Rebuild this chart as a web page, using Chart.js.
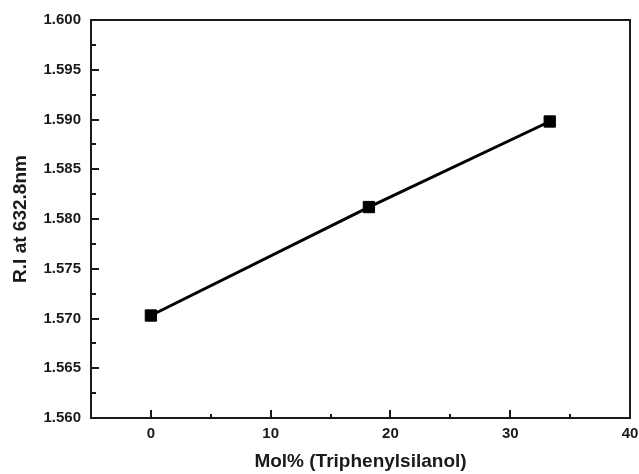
<!DOCTYPE html>
<html>
<head>
<meta charset="utf-8">
<script src="https://cdn.jsdelivr.net/npm/chart.js@4"></script>
<style>
  html, body { margin: 0; padding: 0; background: #fff; }
  #wrap { width: 639px; height: 474px; }
</style>
</head>
<body>
<div id="wrap"><canvas id="myChart"></canvas></div>
<script>
/** Data **/
let molPercent = [0, 18.2, 33.3];
let refIndex = [1.5703, 1.5812, 1.5898];
let xTicks = [0, 10, 20, 30, 40];
let yTicks = [1.56, 1.565, 1.57, 1.575, 1.58, 1.585, 1.59, 1.595, 1.6];

const ink = "#1a1a1a";

//  Box round the plot plus inward major / minor ticks
const frameTicks = {
  id: "frameTicks",
  afterDraw(chart) {
    const { ctx, chartArea: a, scales } = chart;
    ctx.save();
    ctx.strokeStyle = ink;
    ctx.lineWidth = 2;
    ctx.strokeRect(a.left, a.top, a.right - a.left, a.bottom - a.top);

    ctx.beginPath();
    // x axis ticks
    for (let i = 0; i < xTicks.length; i++) {
      let px = Math.round(scales.x.getPixelForValue(xTicks[i]));
      ctx.moveTo(px, a.bottom);
      ctx.lineTo(px, a.bottom - 8);
      let mid = xTicks[i] - 5;
      let mx = Math.round(scales.x.getPixelForValue(mid));
      if (mx > a.left + 1) {
        ctx.moveTo(mx, a.bottom);
        ctx.lineTo(mx, a.bottom - 4);
      }
    }
    // y axis ticks
    for (let i = 0; i < yTicks.length; i++) {
      let py = Math.round(scales.y.getPixelForValue(yTicks[i]));
      ctx.moveTo(a.left, py);
      ctx.lineTo(a.left + 8, py);
      if (i > 0) {
        let my = Math.round(scales.y.getPixelForValue((yTicks[i] + yTicks[i - 1]) / 2));
        ctx.moveTo(a.left, my);
        ctx.lineTo(a.left + 5, my);
      }
    }
    ctx.lineWidth = 2;
    ctx.stroke();
    ctx.restore();
  },
};

const ctx = document.getElementById("myChart");

let myChart = new Chart(ctx, {
  type: "scatter",
  data: {
    datasets: [
      {
        data: molPercent.map((x, i) => ({ x: x, y: refIndex[i] })),
        showLine: true,
        borderColor: "#000",
        borderWidth: 3,
        backgroundColor: "#000",
        pointStyle: "rect",
        pointRadius: 8,
        pointBorderWidth: 1,
        pointBorderColor: "#000",
        pointBackgroundColor: "#000",
        clip: false,
      },
    ],
  },
  plugins: [frameTicks],
  options: {
    responsive: true,
    maintainAspectRatio: false,
    animation: false,
    layout: { padding: { top: 20, right: 0, left: 0, bottom: 0 } },
    plugins: { legend: { display: false }, tooltip: { enabled: false } },
    scales: {
      x: {
        type: "linear",
        min: -5,
        max: 40,
        afterBuildTicks: (scale) => {
          scale.ticks = xTicks.map((v) => ({ value: v }));
        },
        afterFit: (scale) => {
          scale.height = 56;
          scale.paddingRight = 8;
        },
        grid: { display: false, drawTicks: false },
        border: { display: false },
        ticks: {
          padding: 7,
          color: ink,
          font: { family: "Liberation Sans, Arial, sans-serif", size: 15, weight: "bold" },
          callback: (v) => String(v),
        },
        title: {
          display: true,
          text: "Mol% (Triphenylsilanol)",
          color: ink,
          padding: { top: 0, bottom: 1 },
          font: { family: "Liberation Sans, Arial, sans-serif", size: 19, weight: "bold" },
        },
      },
      y: {
        type: "linear",
        min: 1.56,
        max: 1.6,
        afterBuildTicks: (scale) => {
          scale.ticks = yTicks.map((v) => ({ value: v }));
        },
        afterFit: (scale) => {
          scale.width = 91;
        },
        grid: { display: false, drawTicks: false },
        border: { display: false },
        ticks: {
          padding: 10,
          color: ink,
          font: { family: "Liberation Sans, Arial, sans-serif", size: 15, weight: "bold" },
          callback: (v) => Number(v).toFixed(3),
        },
        title: {
          display: true,
          text: "R.I at 632.8nm",
          color: ink,
          padding: { top: 9, bottom: 0 },
          font: { family: "Liberation Sans, Arial, sans-serif", size: 19, weight: "bold" },
        },
      },
    },
  },
});
</script>
</body>
</html>
